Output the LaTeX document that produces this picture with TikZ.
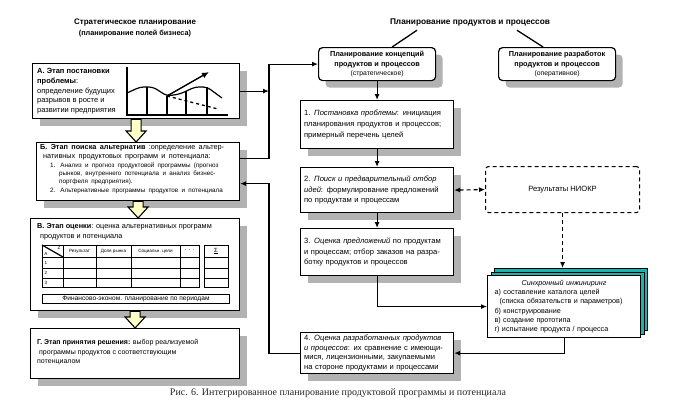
\documentclass[tikz,border=0pt]{standalone}
\usepackage{fontspec}
\setmainfont{Liberation Sans}
\newfontfamily\capfont{Liberation Serif}
\usetikzlibrary{arrows.meta,shadows,calc}
\definecolor{shadowgray}{RGB}{178,178,178}
\definecolor{stackteal}{RGB}{30,178,175}
\definecolor{fatyellow}{RGB}{255,255,200}
\newcommand\myfs[2]{\fontsize{#1}{#2}\selectfont}
\begin{document}
\begin{tikzpicture}[x=1pt,y=-1pt,
  shadowed/.style={drop shadow={shadow xshift=7pt,shadow yshift=-7pt,fill=shadowgray,opacity=1}},
  box/.style={draw,line width=1.2pt,fill=white,anchor=north west,inner sep=0pt,shadowed},
  rbox/.style={draw,line width=1.2pt,fill=white,anchor=north west,inner xsep=3.5pt,inner ysep=2pt,align=left,shadowed,font={\myfs{7.6}{10.8}}},
  tbox/.style={anchor=north west,inner sep=0pt,align=left},
  con/.style={line width=1.1pt,-{Latex[length=6pt,width=5pt]}},
  dcon/.style={line width=1.1pt,dash pattern=on 4pt off 3pt},
  fat/.style={draw,line width=1.1pt,fill=fatyellow},
  tline/.style={line width=0.9pt},
  tlab/.style={inner sep=0pt,font={\myfs{4.6}{5}}}
]
\useasboundingbox (0,0) rectangle (680,410);
\fill[white] (0,0) rectangle (680,410);

% ---------- titles ----------
\node[font={\bfseries\myfs{8}{9}}] (t1) at (135,23) {Стратегическое планирование};
\node[font={\bfseries\myfs{7.3}{9}}] (t2) at (135,34) {(планирование полей бизнеса)};
\node[font={\bfseries\myfs{8.3}{10}}] (t3) at (470,23) {Планирование продуктов и процессов};

% ---------- left column ----------
\node[box,minimum width=207,minimum height=55] (A) at (32,63) {};
\node[tbox,font={\myfs{7.5}{9.8}}] (Atxt) at (37,68)
  {\textbf{А. Этап постановки}\\\textbf{проблемы}:\\определение будущих\\разрывов в росте и\\развитии предприятия};
% chart
\draw[line width=1.2pt] (127,67) -- (127,115) -- (228,115);
\draw[line width=1.2pt,rounded corners=4pt] (127,93) -- (140,87) -- (153,87) -- (167,96) -- (180,94) -- (195,87) -- (207,87) -- (222,98);
\draw[line width=1.1pt] (147,87) -- (147,115) (167,96) -- (167,115) (186,91) -- (186,115) (207,87) -- (207,115);
\draw[line width=1.3pt,dashed] (167,96) -- (218,109);
\draw[line width=1.4pt,-{Latex[length=7pt,width=6pt]}] (167,96) -- (209,72);

\node[box,minimum width=203,minimum height=58] (B) at (36,142) {};
\node[tbox,text width=202] (Btxt) at (40,144)
  {{\myfs{7.3}{9.6}\textbf{Б. Этап поиска альтернатив} :определение альтер-\\\hspace*{3pt}нативных продуктовых программ и потенциала:\par}
   {\myfs{6.3}{8.3}\hspace*{10pt}1. Анализ и прогноз продуктовой программы (прогноз\\
   \hspace*{19pt}рынков, внутреннего потенциала и анализ бизнес-\\
   \hspace*{19pt}портфеля предприятия).\\
   \hspace*{10pt}2. Альтернативные программы продуктов и потенциала\par}};

\node[box,minimum width=209,minimum height=92] (V) at (30,218) {};
\node[tbox,font={\myfs{7.3}{9.8}}] (Vtxt) at (37,223)
  {\textbf{В. Этап оценки}: оценка альтернативных программ\\\hspace*{3pt}продуктов и потенциала};
% table
\draw[tline] (42,245) rectangle (199,287);
\draw[tline] (42,257) -- (199,257) (42,268) -- (199,268) (42,278) -- (199,278);
\draw[tline] (63,245) -- (63,287) (96,245) -- (96,287) (131,245) -- (131,287) (180,245) -- (180,287);
\draw[tline] (204,245) rectangle (228,287);
\draw[tline] (204,257) -- (228,257) (204,268) -- (228,268) (204,278) -- (228,278);
\draw[line width=1.2pt] (42,245) -- (63,257);
\node[tlab] (tA) at (46,254) {A};
\node[tlab] (tZ) at (59,248) {Z};
\node[tlab] (h1) at (79.5,251) {Результат};
\node[tlab] (h2) at (113.5,251) {Доля рынка};
\node[tlab] (h3) at (155.5,251) {Социальн. цели};
\node[tlab,font={\myfs{6}{6}}] (h4) at (189.5,250) {. . .};
\node[tlab,font={\myfs{6}{6}}] (h5) at (216,251) {\underline{Σ}};
\node[tlab] (r1) at (46,262.5) {1};
\node[tlab] (r2) at (46,273) {2};
\node[tlab] (r3) at (46,282.5) {3};
\node[draw,line width=1pt,anchor=north west,minimum width=187,minimum height=9,inner sep=0pt,font={\myfs{6.6}{7}}] (fin) at (42,294) {Финансово-эконом. планирование по периодам};

\node[box,minimum width=209,minimum height=50] (G) at (30,328) {};
\node[tbox,font={\myfs{7}{9.6}}] (Gtxt) at (37,339)
  {\textbf{Г. Этап принятия решения:} выбор реализуемой\\\hspace*{2pt}программы продуктов с соответствующим\\потенциалом};

% fat arrows
\newcommand\fatarr[2]{\draw[fat] let \p1=(#1.south), \p2=(#2.north) in
  (\x1-5pt,\y1) -- (\x1+5pt,\y1) -- (\x1+5pt,\y2+11pt) -- (\x1+10pt,\y2+11pt) -- (\x1,\y2) -- (\x1-10pt,\y2+11pt) -- (\x1-5pt,\y2+11pt) -- cycle;}
\fatarr{A}{B}
\fatarr{B}{V}
\fatarr{V}{G}

% ---------- right part ----------
\node[rbox,rounded corners=4pt,align=center,minimum width=117,minimum height=33,font={\myfs{7.3}{9.6}}] (conc) at (318,47)
  {\textbf{Планирование концепций}\\\textbf{продуктов и процессов}\\{\myfs{6.8}{9.6}(стратегическое)}};
\node[rbox,rounded corners=4pt,align=center,minimum width=117,minimum height=33,font={\myfs{7.3}{9.6}}] (oper) at (498,47)
  {\textbf{Планирование разработок}\\\textbf{продуктов и процессов}\\{\myfs{6.8}{9.6}(оперативное)}};
\draw[line width=1.3pt] ([xshift=-53pt]t3.south) -- ([xshift=15pt]conc.north);
\draw[line width=1.3pt] ([xshift=47pt]t3.south) -- ([xshift=-14pt]oper.north);

\node[rbox,minimum width=153,minimum height=48,text width=146] (b1) at (300,100)
  {1. \textit{Постановка проблемы}: инициация\\планирования продуктов и процессов;\\примерный перечень целей};
\node[rbox,minimum width=153,minimum height=45,text width=146] (b2) at (300,167)
  {2. \textit{Поиск и предварительный отбор}\\\textit{идей}: формулирование предложений\\по продуктам и процессам};
\node[rbox,minimum width=153,minimum height=47,text width=146] (b3) at (300,228)
  {3. \textit{Оценка предложений} по продуктам\\и процессам; отбор заказов на разра-\\ботку продуктов и процессов};
\node[rbox,minimum width=153,minimum height=41,text width=146,font={\myfs{7.6}{9.6}}] (b4) at (300,332)
  {4. \textit{Оценка разработанных продуктов}\\\textit{и процессов}: их сравнение с имеющи-\\мися, лицензионными, закупаемыми\\на стороне продуктами и процессами};

\node[draw,dcon,rounded corners=3pt,anchor=north west,minimum width=154,minimum height=46,font={\myfs{7.6}{9}}] (niokr) at (485,166) {Результаты НИОКР};

% stack
\node[draw,line width=1.1pt,fill=stackteal,anchor=north west,minimum width=153,minimum height=62] (s3) at (494,268) {};
\node[draw,line width=1.1pt,fill=stackteal,anchor=north west,minimum width=153,minimum height=62] (s2) at (490.5,271.5) {};
\node[draw,line width=1.1pt,fill=white,anchor=north west,minimum width=153,minimum height=62,inner xsep=7pt,inner ysep=2pt,text width=139,align=left,font={\myfs{7.2}{9.3}}] (s) at (487,275)
  {{\centering\textit{Синхронный инжиниринг}\par}
   а) составление каталога целей\\
   \hspace*{5pt}(списка обязательств и параметров)\\
   б) конструирование\\
   в) создание прототипа\\
   г) испытание продукта / процесса};

% ---------- connectors ----------
\coordinate (vx) at (269,0);
\coordinate (bin) at ([yshift=-12pt]B.east);
\coordinate (bout) at ([yshift=13pt]B.east);
\draw[con] (A.east) -- (A.east -| vx);
\draw[con] (bout) -| (vx |- conc.west) -- (conc.west);
\draw[con] (b4.west) -| (vx |- bin) -- (bin);
\draw[con] (conc.south) -- (b1.north);
\draw[con] (b1.south) -- (b2.north);
\draw[con] (b2.south) -- (b3.north);
\draw[con] (b3.south) |- (s.west);
\draw[con] (s.south) |- (b4.east);
\draw[dcon,{Latex[length=6pt,width=5pt]}-{Latex[length=6pt,width=5pt]}] (b2.east) -- (niokr.west);
\draw[dcon,-{Latex[length=6pt,width=5pt]}] (niokr.south) -- (niokr.south |- s3.north);

% caption
\node[font={\capfont\myfs{10}{12}},text=black!85] (cap) at (338,393)
  {Рис. 6. Интегрированное планирование продуктовой программы и потенциала};
\end{tikzpicture}
\end{document}
